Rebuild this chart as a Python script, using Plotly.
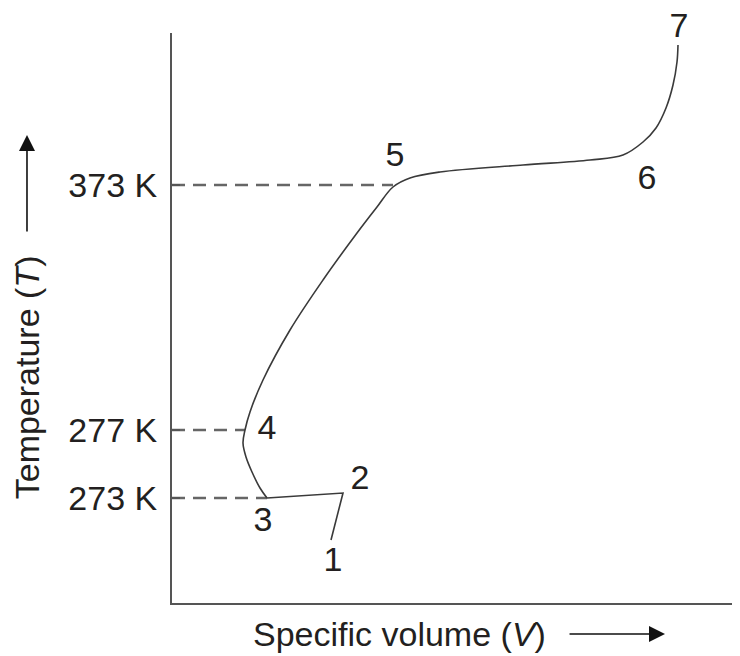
import plotly.graph_objects as go

# Schematic coordinates (plot units)
seg_v = [159, 171, 95]          # 1 -> 2 -> 3 (straight segments)
seg_t = [63, 110, 105]

curve_v = [95, 88, 80, 74, 71, 73, 78, 91, 118, 151, 185, 205, 221, 238, 268,
           351, 418, 451, 471, 484, 494, 501, 505, 506]
curve_t = [105, 115, 131, 146, 160, 173, 191, 223, 273, 323, 370, 396, 416, 425, 431,
           438, 443, 448, 461, 475, 495, 518, 541, 558]

tick_vals = [105, 173, 418]
tick_text = ["273 K", "277 K", "373 K"]
dash_end_v = [95, 73, 221]

label_text = ["1", "2", "3", "4", "5", "6"]
label_v = [161, 188, 91, 95, 223, 475]
label_t = [41, 123, 81, 173, 446, 423]
top_label_text = ["7"]
top_label_v = [507]
top_label_t = [558]

FONT = "Liberation Sans, Arial, Helvetica, sans-serif"
TXT = "#231f20"
LINE = "#3a3a3a"
AX = "#555555"
DASH = "#666666"
FS = 34

fig = go.Figure()

for tv, ve in zip(tick_vals, dash_end_v):
    fig.add_trace(go.Scatter(x=[0, ve], y=[tv, tv], mode="lines",
                             line=dict(color=DASH, width=2.5, dash="13px,8px"),
                             hoverinfo="skip", showlegend=False))

fig.add_trace(go.Scatter(x=seg_v, y=seg_t, mode="lines",
                         line=dict(color=LINE, width=1.6), showlegend=False))
fig.add_trace(go.Scatter(x=curve_v, y=curve_t, mode="lines",
                         line=dict(color=LINE, width=1.6, shape="spline", smoothing=1),
                         showlegend=False))
fig.add_trace(go.Scatter(x=label_v, y=label_t, mode="text", text=label_text,
                         textfont=dict(family=FONT, size=FS, color=TXT),
                         cliponaxis=False, showlegend=False))
fig.add_trace(go.Scatter(x=top_label_v, y=top_label_t, mode="text", text=top_label_text,
                         textposition="top center",
                         textfont=dict(family=FONT, size=FS, color=TXT),
                         cliponaxis=False, showlegend=False))

# page body has an 8px margin: figure is 732x648 so that it fills the 740x656 window
fig.update_layout(
    width=732, height=648,
    margin=dict(l=164, r=0, t=25, b=53, autoexpand=False),
    plot_bgcolor="white", paper_bgcolor="white",
    font=dict(family=FONT, color=TXT, size=FS),
    xaxis=dict(range=[0, 568], showline=True, linecolor=AX, linewidth=2,
               showgrid=False, zeroline=False, showticklabels=False, ticks="",
               automargin=False),
    yaxis=dict(range=[0, 570], showline=True, linecolor=AX, linewidth=2,
               showgrid=False, zeroline=False, tickmode="array",
               tickvals=tick_vals, ticktext=tick_text, ticks="inside",
               ticklen=8, tickwidth=2, tickcolor=AX, ticklabelstandoff=6,
               automargin=False,
               tickfont=dict(family=FONT, size=FS, color=TXT)),
    annotations=[
        dict(x=0.401, y=-0.0544, xref="paper", yref="paper", text="Specific volume (<i>V</i>)",
             showarrow=False, font=dict(family=FONT, size=FS, color=TXT),
             xanchor="center", yanchor="middle"),
        dict(x=0.868, y=-0.0544, xref="paper", yref="paper", text="",
             showarrow=True, ax=-97, ay=0, arrowhead=2, arrowsize=2,
             arrowwidth=1.6, arrowcolor="#111111"),
        dict(x=-0.2553, y=0.396, xref="paper", yref="paper", text="Temperature (<i>T</i>)",
             showarrow=False, textangle=-90, font=dict(family=FONT, size=FS, color=TXT),
             xanchor="center", yanchor="middle"),
        dict(x=-0.2553, y=0.821, xref="paper", yref="paper", text="",
             showarrow=True, ax=0, ay=98, arrowhead=2, arrowsize=2,
             arrowwidth=1.6, arrowcolor="#111111"),
    ],
)

fig.write_html("out.html")
